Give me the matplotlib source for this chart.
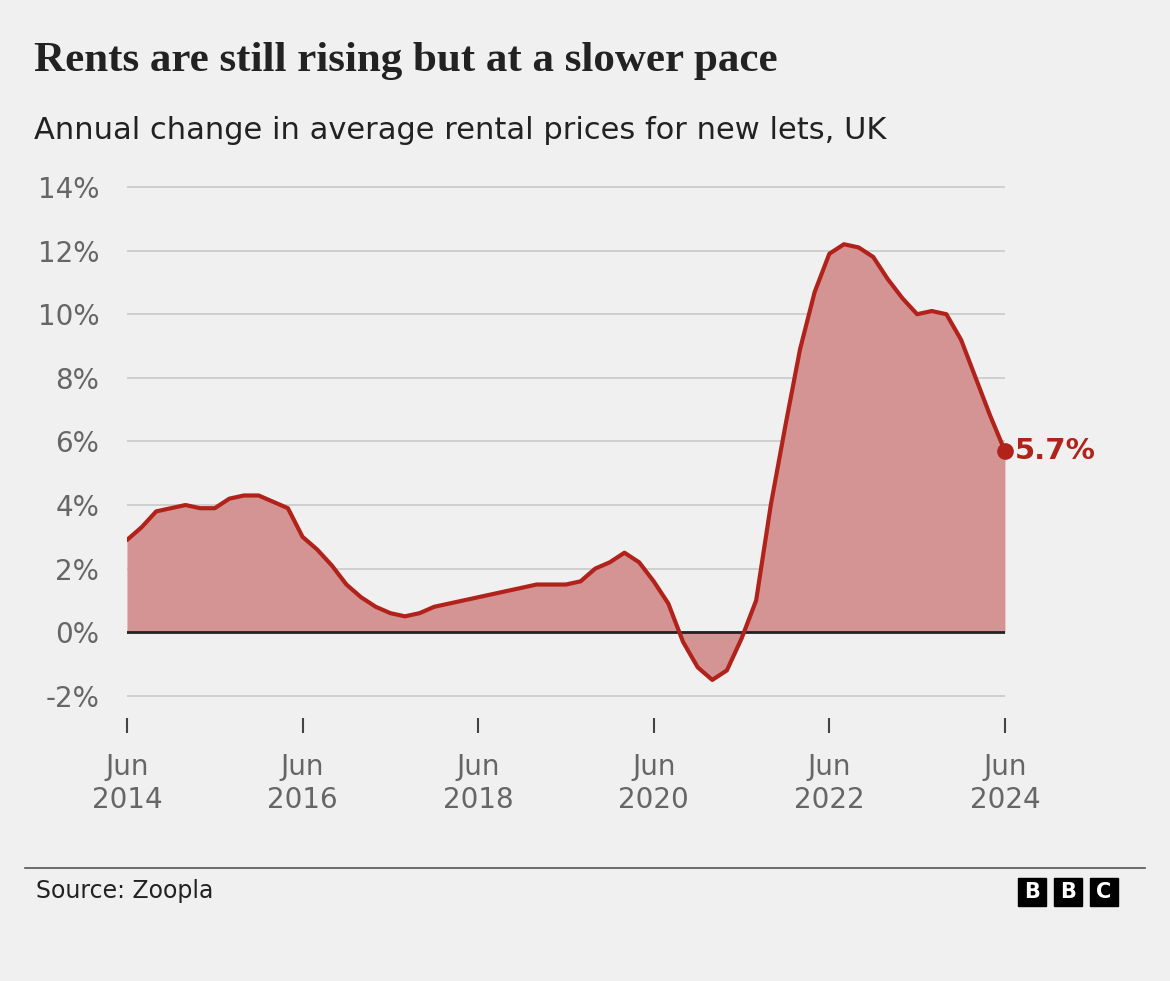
import matplotlib.pyplot as plt
from matplotlib.patches import Rectangle

# months since Jun 2014, read every two months
months = list(range(0, 121, 2))
change = [2.9, 3.3, 3.8, 3.9, 4.0, 3.9, 3.9, 4.2, 4.3, 4.3, 4.1, 3.9,
          3.0, 2.6, 2.1, 1.5, 1.1, 0.8, 0.6, 0.5, 0.6, 0.8, 0.9, 1.0,
          1.1, 1.2, 1.3, 1.4, 1.5, 1.5, 1.5, 1.6, 2.0, 2.2, 2.5, 2.2,
          1.6, 0.9, -0.3, -1.1, -1.5, -1.2, -0.2, 1.0, 4.0, 6.5, 8.9, 10.7,
          11.9, 12.2, 12.1, 11.8, 11.1, 10.5, 10.0, 10.1, 10.0, 9.2, 8.0, 6.8,
          6.4][:len(range(0, 121, 2)) - 1] + [5.7]
xtick_pos = [0, 24, 48, 72, 96, 120]
xtick_labels = ['Jun\n2014', 'Jun\n2016', 'Jun\n2018', 'Jun\n2020', 'Jun\n2022', 'Jun\n2024']
ytick_pos = [-2, 0, 2, 4, 6, 8, 10, 12, 14]

bg = '#f0f0f0'
red = '#b0221a'
fig = plt.figure(figsize=(11.7, 9.81), dpi=100, facecolor=bg)
ax = fig.add_axes([0.1085, 0.268, 0.7504, 0.543], facecolor=bg)

ax.fill_between(months, change, 0, color='#d49494', lw=0)
ax.plot(months, change, color=red, lw=3, zorder=4, solid_capstyle='round')
ax.axhline(0, color='#222222', lw=2, zorder=3)
ax.plot(months[-1], change[-1], 'o', color=red, ms=11, zorder=5, clip_on=False)
ax.text(months[-1] + 1.4, change[-1], '5.7%', color=red, fontsize=21, fontweight='bold',
        va='center', ha='left', clip_on=False)

ax.set_xlim(0, 120)
ax.set_ylim(-2.7, 14.05)
ax.set_yticks(ytick_pos)
ax.set_yticklabels([f'{v}%' for v in ytick_pos])
ax.set_xticks(xtick_pos)
ax.set_xticklabels(xtick_labels, linespacing=1.25)
ax.grid(axis='y', color='#cccccc', lw=1.3)
ax.set_axisbelow(True)
for s in ax.spines.values():
    s.set_visible(False)
ax.tick_params(axis='y', length=0, pad=20, labelsize=20, labelcolor='#666666')
ax.tick_params(axis='x', length=11, width=1.5, color='#444444', pad=14,
               labelsize=20, labelcolor='#666666', direction='out')

fig.text(0.029, 0.928, 'Rents are still rising but at a slower pace', fontsize=31,
         fontweight='bold', family='Liberation Serif', color='#222222', va='baseline')
fig.text(0.029, 0.858, 'Annual change in average rental prices for new lets, UK', fontsize=22,
         color='#222222', va='baseline')
fig.add_artist(plt.Line2D([0.021, 0.979], [0.115, 0.115], color='#555555', lw=1.2))
fig.text(0.031, 0.092, 'Source: Zoopla', fontsize=17, color='#222222', va='center')

# BBC blocks
for i, ch in enumerate('BBC'):
    x0 = 1018 + i * 36
    fig.add_artist(Rectangle((x0 / 1170, 1 - 906 / 981), 28 / 1170, 28 / 981,
                             transform=fig.transFigure, color='black'))
    fig.text((x0 + 14) / 1170, 1 - 892 / 981, ch, color='white', fontsize=15,
             fontweight='bold', ha='center', va='center')

fig.savefig('out.png', dpi=100, facecolor=bg)
